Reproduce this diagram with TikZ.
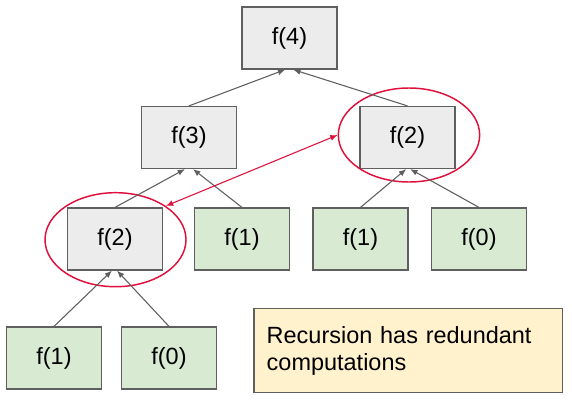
\documentclass[tikz,border=0pt]{standalone}
\usepackage{fontspec}
\setmainfont{Liberation Sans}
\usetikzlibrary{arrows.meta,shapes.geometric}
\definecolor{boxgray}{HTML}{ECECEC}
\definecolor{boxgreen}{HTML}{D9EAD3}
\definecolor{boxyellow}{HTML}{FFF2CC}
\definecolor{edgegray}{HTML}{5F5F5F}
\definecolor{ringred}{HTML}{E0103C}
\begin{document}
\begin{tikzpicture}[x=0.75pt,y=-0.75pt,
  font=\fontsize{17.6}{20.25}\selectfont,
  fbox/.style={draw=edgegray, line width=0.9pt, minimum width=71.25pt, minimum height=46.5pt, inner sep=0pt},
  graybox/.style={fbox, fill=boxgray},
  greenbox/.style={fbox, fill=boxgreen},
  ring/.style={draw=ringred, line width=1.1pt, ellipse, inner sep=0pt},
  tree/.style={draw=edgegray, line width=0.8pt, -{Latex[length=5.5pt,width=4.5pt]}},
  redarrow/.style={draw=ringred, line width=0.8pt, {Latex[length=5.5pt,width=4.5pt]}-{Latex[length=5.5pt,width=4.5pt]}}
]
\useasboundingbox (0,0) rectangle (572,400);
\fill[white] (0,0) rectangle (572,400);

\node[graybox] (f4) at (289.5,38) {f(4)};
\node[graybox] (f3) at (189,137.5) {f(3)};
\node[graybox] (f2R) at (407.5,137.5) {f(2)};
\node[graybox] (f2L) at (115,239) {f(2)};
\node[greenbox] (f1M) at (242,239) {f(1)};
\node[greenbox] (f1R) at (360.5,239) {f(1)};
\node[greenbox] (f0R) at (479,239) {f(0)};
\node[greenbox] (f1B) at (54,358) {f(1)};
\node[greenbox] (f0B) at (169,358) {f(0)};

\node[ring, minimum width=106pt, minimum height=70.5pt] (eR) at (409,135) {};
\node[ring, minimum width=105.75pt, minimum height=70.5pt] (eL) at (115.5,239.7) {};

\draw[tree] (f3.north) -- ([xshift=-3.2pt]f4.south);
\draw[tree] (f2R.north) -- ([xshift=2.8pt]f4.south);
\draw[tree] (f2L.north) -- ([xshift=-3pt]f3.south);
\draw[tree] (f1M.north) -- ([xshift=3pt]f3.south);
\draw[tree] (f1R.north) -- ([xshift=-1pt]f2R.south);
\draw[tree] (f0R.north) -- ([xshift=2pt]f2R.south);
\draw[tree] (f1B.north) -- ([xshift=-2.3pt]f2L.south);
\draw[tree] (f0B.north) -- ([xshift=1.5pt]f2L.south);

\draw[redarrow] (eR.west) -- (eL.north east);

\node[draw=edgegray, line width=0.9pt, fill=boxyellow, minimum width=231.5pt, minimum height=63.3pt,
  text width=212.5pt, inner xsep=9.5pt, align=left] (note) at (408.4,350.5)
  {Recursion has redundant\\computations};
\end{tikzpicture}
\end{document}
